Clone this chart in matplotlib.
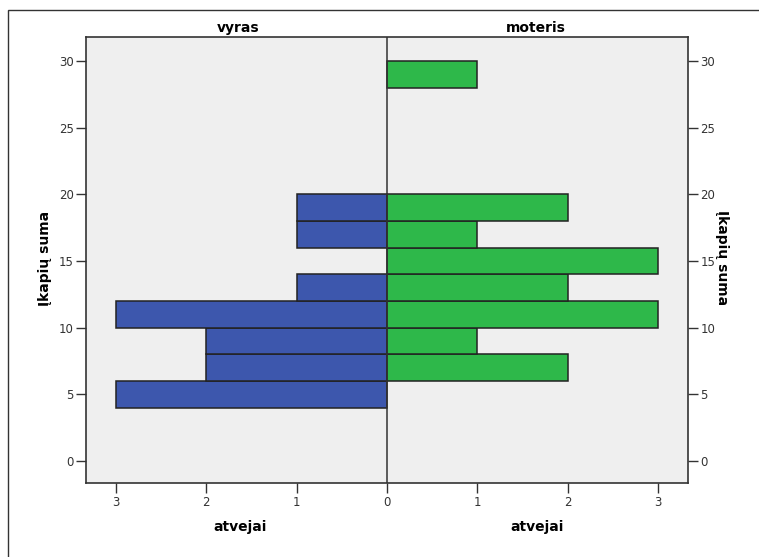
import matplotlib
matplotlib.use("Agg")
import matplotlib.pyplot as plt
from matplotlib.patches import Rectangle

# bins of "Įkapių suma" (lower edges, width 2)
bin_low = [4, 6, 8, 10, 12, 14, 16, 18, 28]
vyras = [3, 2, 2, 3, 1, 0, 1, 1, 0]
moteris = [0, 2, 1, 3, 2, 3, 1, 2, 1]
bin_width = 2
y_ticks = [0, 5, 10, 15, 20, 25, 30]
x_ticks = [-3, -2, -1, 0, 1, 2, 3]

blue = "#3d57ad"
green = "#2eb84a"
edge = "#222222"

fig = plt.figure(figsize=(7.59, 5.57), dpi=100)
ax = fig.add_axes([86/759, 1 - 483/557, (688-86)/759, (483-37)/557])
ax.set_facecolor("#efefef")

# left half (men), drawn as negative widths
for lo, v in zip(bin_low, vyras):
    if v > 0:
        ax.barh(lo, -v, height=bin_width, align="edge", color=blue,
                edgecolor=edge, linewidth=1.1)
for lo, m in zip(bin_low, moteris):
    if m > 0:
        ax.barh(lo, m, height=bin_width, align="edge", color=green,
                edgecolor=edge, linewidth=1.1)

ax.axvline(0, color="#333333", linewidth=1.1)
ax.set_xlim(-3.33, 3.33)
ax.set_ylim(-1.65, 31.8)

ax.set_xticks(x_ticks)
ax.set_xticklabels([str(abs(t)) for t in x_ticks])
ax.set_yticks(y_ticks)
ax.tick_params(axis="both", direction="out", length=7, width=1, pad=2,
               color="#333333", labelsize=8.5, labelcolor="#333333")
ax.tick_params(axis="y", right=True, labelright=True, left=True, labelleft=True)
for s in ax.spines.values():
    s.set_color("#333333")
    s.set_linewidth(1.2)

# facet titles and axis labels
ax.text(-3.33/2 + 0.02, 1.005, "vyras", transform=ax.get_xaxis_transform(),
        ha="center", va="bottom", fontsize=10, fontweight="bold")
ax.text(3.33/2 - 0.02, 1.005, "moteris", transform=ax.get_xaxis_transform(),
        ha="center", va="bottom", fontsize=10, fontweight="bold")
fig.text(240/759, 1 - 527/557, "atvejai", ha="center", va="center",
         fontsize=10, fontweight="bold")
fig.text(537/759, 1 - 527/557, "atvejai", ha="center", va="center",
         fontsize=10, fontweight="bold")
fig.text(45/759, 1 - 258/557, "Įkapių suma", ha="center", va="center",
         rotation=90, fontsize=10, fontweight="bold")
fig.text(722/759, 1 - 258/557, "Įkapių suma", ha="center", va="center",
         rotation=-90, fontsize=10, fontweight="bold")

# outer frame
fig.patches.append(Rectangle((8/759, -0.1), 1.2, 1 - 10/557 + 0.1,
                             transform=fig.transFigure, fill=False,
                             edgecolor="#333333", linewidth=1))

fig.savefig("out.png", dpi=100)
